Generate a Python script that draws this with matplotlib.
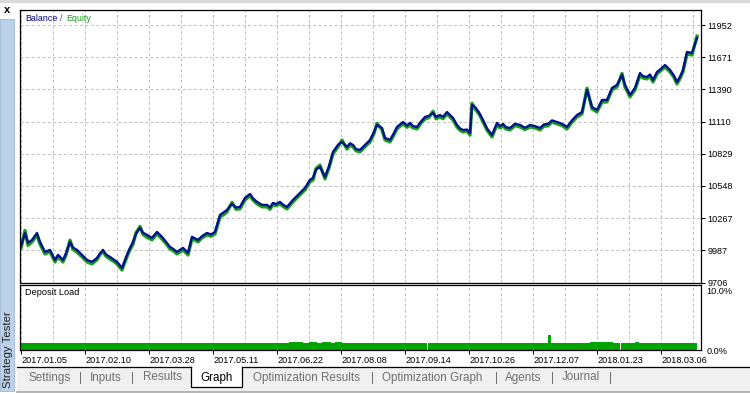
import matplotlib
matplotlib.use("Agg")
import matplotlib.pyplot as plt
from matplotlib.patches import Rectangle
from matplotlib.lines import Line2D

plt.rcParams['font.family'] = ['Liberation Sans', 'DejaVu Sans']

# deal number along the x axis
deals = [0, 4, 7, 11, 16, 19, 24, 29, 34, 37,
         42, 45, 49, 52, 56, 61, 66, 71, 76, 79,
         82, 85, 89, 92, 96, 101, 104, 108, 112, 115,
         119, 122, 126, 131, 136, 141, 145, 149, 152, 156,
         162, 167, 171, 177, 181, 186, 190, 194, 199, 203,
         206, 211, 215, 219, 224, 229, 232, 236, 241, 246,
         249, 252, 255, 259, 262, 266, 272, 279, 284, 289,
         292, 295, 299, 304, 308, 312, 317, 321, 326, 329,
         332, 335, 339, 344, 349, 353, 356, 361, 364, 369,
         373, 376, 382, 386, 389, 392, 396, 400, 404, 408,
         412, 415, 419, 422, 426, 432, 436, 439, 442, 446,
         449, 451, 454, 458, 462, 466, 471, 476, 479, 482,
         485, 489, 494, 499, 504, 509, 514, 519, 523, 527,
         531, 536, 541, 546, 551, 556, 561, 566, 571, 576,
         581, 586, 591, 596, 601, 604, 609, 614, 619, 622,
         626, 629, 632, 636, 640, 644, 649, 653, 656, 659,
         662, 666, 671, 676]

balance = [10025, 10138, 10051, 10077, 10138, 10060, 9973, 9990, 9903, 9947,
           9903, 9960, 10060, 10010, 9990, 9947, 9903, 9886, 9920, 9960,
           9990, 9950, 9929, 9910, 9886, 9833, 9903, 9990, 10060, 10130,
           10182, 10140, 10121, 10095, 10147, 10104, 10060, 10016, 10000, 9973,
           10008, 9964, 10104, 10077, 10110, 10138, 10125, 10147, 10295, 10320,
           10339, 10391, 10360, 10365, 10444, 10478, 10440, 10409, 10383, 10383,
           10360, 10400, 10390, 10409, 10385, 10365, 10426, 10487, 10531, 10601,
           10618, 10690, 10714, 10627, 10720, 10845, 10906, 10932, 10888, 10920,
           10906, 10870, 10862, 10906, 10949, 11020, 11080, 11054, 10967, 10949,
           11010, 11063, 11106, 11075, 11098, 11070, 11063, 11110, 11150, 11160,
           11185, 11150, 11167, 11150, 11193, 11141, 11080, 11050, 11036, 11040,
           11010, 11254, 11237, 11190, 11124, 11050, 10993, 11098, 11070, 11089,
           11060, 11054, 11090, 11080, 11055, 11080, 11070, 11054, 11085, 11089,
           11120, 11106, 11090, 11063, 11120, 11167, 11193, 11385, 11237, 11211,
           11298, 11298, 11403, 11429, 11516, 11429, 11342, 11403, 11533, 11505,
           11499, 11520, 11472, 11542, 11570, 11603, 11560, 11510, 11455, 11500,
           11560, 11717, 11708, 11839]

equity = [10005, 10160, 10030, 10060, 10120, 10040, 9955, 9975, 9885, 9930,
          9885, 9945, 10075, 9995, 9970, 9930, 9885, 9868, 9905, 9950,
          9975, 9935, 9910, 9895, 9868, 9815, 9885, 9975, 10040, 10140,
          10195, 10125, 10100, 10078, 10130, 10085, 10045, 9998, 9985, 9955,
          9990, 9946, 10088, 10060, 10095, 10120, 10110, 10130, 10278, 10300,
          10322, 10405, 10345, 10348, 10427, 10462, 10425, 10392, 10366, 10366,
          10345, 10383, 10375, 10392, 10370, 10348, 10410, 10470, 10514, 10585,
          10600, 10700, 10730, 10610, 10705, 10828, 10890, 10948, 10870, 10905,
          10890, 10855, 10845, 10890, 10932, 11005, 11095, 11037, 10950, 10932,
          10995, 11046, 11090, 11060, 11080, 11055, 11046, 11095, 11133, 11145,
          11200, 11135, 11150, 11135, 11176, 11124, 11063, 11035, 11019, 11025,
          10992, 11270, 11220, 11175, 11107, 11035, 10976, 11080, 11055, 11072,
          11045, 11037, 11075, 11063, 11040, 11063, 11055, 11037, 11070, 11072,
          11105, 11090, 11075, 11046, 11105, 11150, 11176, 11400, 11220, 11194,
          11280, 11281, 11386, 11412, 11530, 11412, 11325, 11386, 11516, 11490,
          11482, 11505, 11455, 11525, 11555, 11586, 11543, 11495, 11438, 11485,
          11543, 11700, 11690, 11855]

# deposit load (%) as steps starting at these deals
load_x = [0, 268, 282, 288, 296, 301, 310, 314, 321, 406, 407, 527, 530,
          569, 592, 599, 600, 614, 618, 676]
load_v = [1.15, 1.4, 1.2, 1.4, 1.2, 1.4, 1.2, 1.35, 1.15, 0, 1.15, 2.5, 1.15,
          1.4, 1.15, 0, 1.15, 1.3, 1.15, 0]

y_vals = [9706, 9986.75, 10267.5, 10548.25, 10829, 11109.75, 11390.5, 11671.25, 11952]
y_labels = ['9706', '9987', '10267', '10548', '10829', '11110', '11390', '11671', '11952']

date_x = [0, 64, 128, 192, 256, 320, 384, 448, 512, 576, 640]
date_labels = ['2017.01.05', '2017.02.10', '2017.03.28', '2017.05.11', '2017.06.22',
               '2017.08.08', '2017.09.14', '2017.10.26', '2017.12.07', '2018.01.23',
               '2018.03.06']
grid_x = list(range(0, 673, 32))

tabs = ['Settings', 'Inputs', 'Results', 'Graph', 'Optimization Results',
        'Optimization Graph', 'Agents', 'Journal']
tab_x = [28, 90, 143, 200, 253, 382, 505, 562]
sep_x = [80, 133, 372, 496, 552, 611]

W, H = 750, 394


def fx(x):
    return x / W


def fy(y):
    return 1 - y / H


fig = plt.figure(figsize=(7.5, 3.94), dpi=100)
fig.patch.set_facecolor('white')

grid_style = dict(color='#c4c4c4', lw=0.75, ls=(0, (3, 2.2)))

# balance / equity panel
ax = fig.add_axes([fx(20), fy(282.5), 681 / W, (282.5 - 10) / H])
ax.plot(deals, equity, color='#18a018', lw=2.4)
ax.plot(deals, balance, color='#00128c', lw=1.7)
ax.set_xlim(-1, 680)
ax.set_ylim(9706, 12083)
ax.set_xticks(grid_x)
ax.tick_params(axis='x', length=0, labelbottom=False)
ax.yaxis.tick_right()
ax.set_yticks(y_vals)
ax.set_yticklabels(y_labels)
ax.tick_params(axis='y', length=3, width=0.75, pad=1.5, labelsize=6.6, colors='black')
ax.grid(True, **grid_style)
ax.set_axisbelow(True)
for s in ax.spines.values():
    s.set_linewidth(0.9)
    s.set_color('black')
fig.text(fx(25), fy(18.5), 'Balance', color='#000080', fontsize=6.4, va='center')
fig.text(fx(60), fy(18.5), '/', color='#505050', fontsize=6.4, va='center')
fig.text(fx(66), fy(18.5), 'Equity', color='#18a018', fontsize=6.4, va='center')

# deposit load panel
ax2 = fig.add_axes([fx(20), fy(350), 681 / W, (350 - 284.5) / H])
ax2.fill_between(load_x, load_v, step='post', color='#00a400', lw=0)
ax2.set_xlim(-1, 680)
ax2.set_ylim(0, 11)
ax2.set_xticks(date_x)
ax2.set_xticklabels(date_labels)
ax2.set_xticks(grid_x, minor=True)
for lbl in ax2.get_xticklabels():
    lbl.set_ha('left')
ax2.tick_params(axis='x', which='major', length=3, width=0.75, pad=1, labelsize=6.6)
ax2.tick_params(axis='x', which='minor', length=0)
ax2.grid(True, which='both', axis='x', **grid_style)
ax2.set_axisbelow(True)
ax2.yaxis.tick_right()
ax2.set_yticks([0, 10])
ax2.set_yticklabels(['0.0%', '10.0%'])
ax2.tick_params(axis='y', length=0, pad=3.8, labelsize=6.6)
for s in ax2.spines.values():
    s.set_linewidth(0.9)
    s.set_color('black')
fig.text(fx(25), fy(292.5), 'Deposit Load', fontsize=6.6, va='center')

# window chrome
fig.patches.append(Rectangle((0, fy(2)), 1, fy(0) - fy(2), transform=fig.transFigure,
                             color='#dadada', zorder=0))
fig.patches.append(Rectangle((fx(0), fy(391)), fx(14), fy(19) - fy(391),
                             transform=fig.transFigure, facecolor='#bcd2ea',
                             edgecolor='#9fb7d4', lw=0.6, zorder=0))
fig.text(fx(7.5), fy(10), 'x', fontsize=8, fontweight='bold', ha='center', va='center')
fig.text(fx(8.5), fy(388), 'Strategy Tester', rotation=90, fontsize=8.2,
         color='#202020', ha='center', va='bottom')

fig.patches.append(Rectangle((fx(17), fy(391)), 1 - fx(17), fy(367) - fy(391),
                             transform=fig.transFigure, color='#f0f0f0', zorder=0))
fig.lines.append(Line2D([fx(17), 1], [fy(392), fy(392)], transform=fig.transFigure,
                        color='#a8a8a8', lw=1.2))
fig.lines.append(Line2D([fx(17), fx(191)], [fy(367), fy(367)], transform=fig.transFigure,
                        color='black', lw=0.9))
fig.lines.append(Line2D([fx(242), 1], [fy(367), fy(367)], transform=fig.transFigure,
                        color='black', lw=0.9))
fig.patches.append(Rectangle((fx(191), fy(387)), fx(51), fy(367) - fy(387),
                             transform=fig.transFigure, facecolor='white', zorder=1))
fig.lines.append(Line2D([fx(191), fx(191), fx(242), fx(242)],
                        [fy(367), fy(387), fy(387), fy(367)],
                        transform=fig.transFigure, color='black', lw=0.9))

for name, x in zip(tabs, tab_x):
    col = 'black' if name == 'Graph' else '#707070'
    fig.text(fx(x), fy(377.5), name, fontsize=8.4, color=col, va='center', ha='left')
for x in sep_x:
    fig.text(fx(x), fy(377.5), '|', fontsize=8.4, color='#707070', va='center', ha='center')

fig.savefig('out.png', dpi=100)
